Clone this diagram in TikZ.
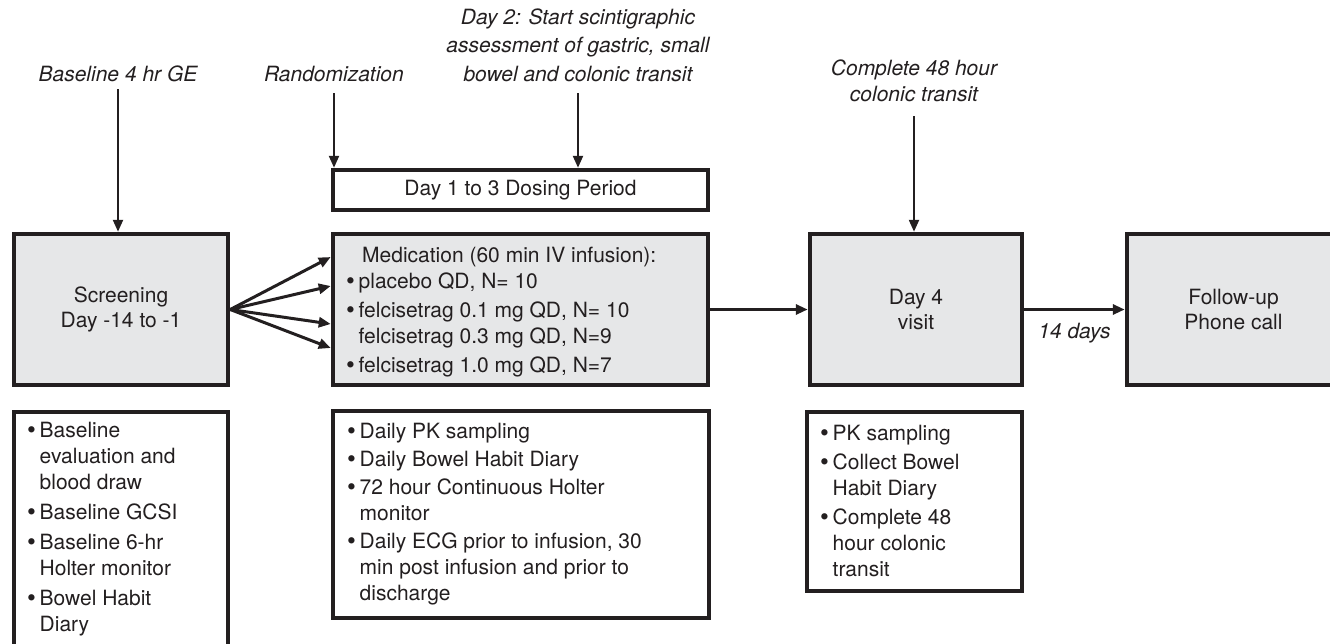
\documentclass[tikz,border=0pt]{standalone}
\usepackage{fontspec}
\setmainfont{TeX Gyre Heros}
\usetikzlibrary{arrows.meta}
\definecolor{ink}{HTML}{231F20}
\definecolor{boxgray}{HTML}{E6E7E8}
\newcommand{\bul}{\makebox[12.5pt][l]{\raisebox{-0.8pt}{\scalebox{1.2}{\textbullet}}}}
\newcommand{\nob}{\hspace*{12.5pt}}

\begin{document}
\begin{tikzpicture}[x=1pt, y=-1pt, font=\fontsize{21}{24.5}\selectfont,
    phase/.style={draw=ink, fill=boxgray, line width=4.5pt, inner sep=0pt, text=ink, align=center},
    listbox/.style={draw=ink, fill=white, line width=4.5pt, inner sep=0pt, text=ink},
    listtxt/.style={anchor=north west, inner sep=0pt, align=left, text=ink, font=\fontsize{21}{26}\selectfont},
    note/.style={anchor=south, inner sep=0pt, align=center, text=ink, font=\itshape\fontsize{21}{28.5}\selectfont},
    flow/.style={ink, line width=3pt, -{Triangle[length=12pt,width=10pt]}},
    drop/.style={ink, line width=2.3pt, -{Triangle[length=12pt,width=10pt]}}]
    \useasboundingbox (0,0) rectangle (1330,643);
    \clip (0,0) rectangle (1330,643);

    % phases
    \node[phase, minimum width=214pt, minimum height=151pt] (screen) at (121,309.5) {Screening\\Day -14 to -1};
    \node[phase, minimum width=375pt, minimum height=151pt] (med) at (520.5,309.5) {};
    \node[listbox, minimum width=375pt, minimum height=40pt] (dose) at (520.5,190) {Day 1 to 3 Dosing Period};
    \node[phase, minimum width=212pt, minimum height=151pt] (day4) at (916,309.5) {Day 4\\visit};
    \node[phase, minimum width=213pt, minimum height=151pt] (fu) at (1233.5,309.5) {Follow-up\\Phone call};

    \node[listtxt] (medtxt) at (346,247) {\hspace*{16pt}Medication (60 min IV infusion):\\
        \bul placebo QD, N= 10\\[3pt]%
        \bul felcisetrag 0.1 mg QD, N= 10\\%
        \nob felcisetrag 0.3 mg QD, N=9\\[3pt]%
        \bul felcisetrag 1.0 mg QD, N=7};

    % lists under the phases
    \node[listbox, minimum width=214pt, minimum height=288pt] (screenlist) at (121,556) {};
    \node[listbox, minimum width=376pt, minimum height=207pt] (medlist) at (521,514.5) {};
    \node[listbox, minimum width=215pt, minimum height=179pt] (day4list) at (914.5,501.5) {};

    \node[listtxt] (screentxt) at (27,422) {\bul Baseline\\\nob evaluation and\\\nob blood draw\\[4pt]%
        \bul Baseline GCSI\\[4pt]%
        \bul Baseline 6-hr\\\nob Holter monitor\\[4pt]%
        \bul Bowel Habit\\\nob Diary};
    \node[listtxt] (medlisttxt) at (347,423) {\bul Daily PK sampling\\[2pt]%
        \bul Daily Bowel Habit Diary\\[2pt]%
        \bul 72 hour Continuous Holter\\\nob monitor\\[2pt]%
        \bul Daily ECG prior to infusion, 30\\\nob min post infusion and prior to\\\nob discharge};
    \node[listtxt] (day4txt) at (820,425) {\bul PK sampling\\[3pt]%
        \bul Collect Bowel\\\nob Habit Diary\\[3pt]%
        \bul Complete 48\\\nob hour colonic\\\nob transit};

    % notes on top
    \node[note] (basenote) at (118,82) {Baseline 4 hr GE};
    \node[note] (randnote) at (334,82) {Randomization};
    \node[note] (day2note) at (578,82) {Day 2: Start scintigraphic\\assessment of gastric, small\\bowel and colonic transit};
    \node[note] (colnote) at (914,102) {Complete 48 hour\\[-3pt]colonic transit};

    \draw[drop] ([yshift=-7pt]basenote.south) -- (basenote.south |- screen.north);
    \draw[drop] ([yshift=-11pt]randnote.south) -- (randnote.south |- dose.north);
    \draw[drop] ([yshift=-11pt]day2note.south) -- (day2note.south |- dose.north);
    \draw[drop] ([yshift=-14pt]colnote.south) -- (colnote.south |- day4.north);

    % flow
    \foreach \dy in {52.5,23.5,-14.5,-38.5}
        \draw[flow] (screen.east) -- ([yshift=\dy pt]med.west);
    \draw[flow] (med.east) -- (day4.west);
    \draw[flow] (day4.east) -- node[inner sep=0pt, text=ink, font=\itshape\fontsize{21}{24.5}\selectfont, below=12pt] {14 days} (fu.west);
\end{tikzpicture}
\end{document}
